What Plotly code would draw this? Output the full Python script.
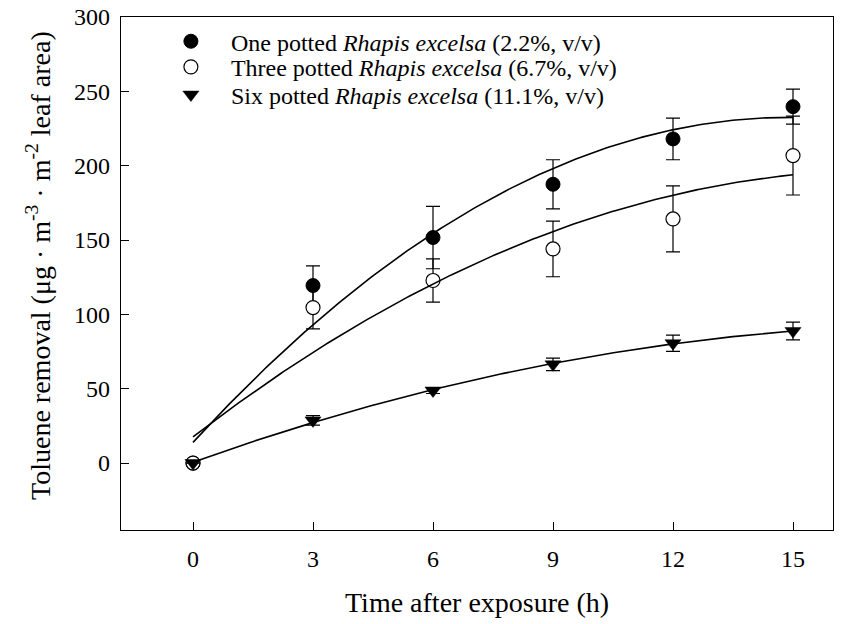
import numpy as np
import plotly.graph_objects as go

hours = [0, 3, 6, 9, 12, 15]

one_pot = [0, 119.4, 151.7, 187.5, 218.0, 239.7]
one_pot_err = [0, 13.2, 21.0, 16.5, 14.0, 11.8]

three_pot = [0, 104.6, 122.8, 144.0, 164.2, 206.8]
three_pot_err = [0, 14.3, 14.5, 18.7, 22.2, 26.5]

six_pot = [0, 28.7, 48.8, 66.4, 80.6, 88.8]
six_pot_err = [0, 3.2, 2.0, 4.2, 5.5, 6.0]

names = [
    "One potted <i>Rhapis excelsa</i> (2.2%, v/v)",
    "Three potted <i>Rhapis excelsa</i> (6.7%, v/v)",
    "Six potted <i>Rhapis excelsa</i> (11.1%, v/v)",
]

x_ticks = [0, 3, 6, 9, 12, 15]
y_ticks = [0, 50, 100, 150, 200, 250, 300]

FONT = "Liberation Serif, Times New Roman, serif"

fig = go.Figure()

series = [
    (one_pot, one_pot_err, dict(symbol="circle", color="black", size=14,
                                line=dict(color="black", width=1)), "legend"),
    (three_pot, three_pot_err, dict(symbol="circle", color="white", size=14,
                                    line=dict(color="black", width=1.2)), "legend2"),
    (six_pot, six_pot_err, dict(symbol="triangle-down", color="black", size=14,
                                line=dict(color="black", width=0.5)), "legend3"),
]

for (vals, errs, mk, lg), nm in zip(series, names):
    fig.add_trace(go.Scatter(
        x=hours, y=vals, mode="markers", name=nm, marker=mk, legend=lg,
        error_y=dict(type="data", array=errs, visible=True, color="black",
                     thickness=1.2, width=7),
    ))

# Quadratic regression lines fitted to each series
tfit = np.linspace(0, 15, 200)
for vals in (one_pot, three_pot, six_pot):
    coef = np.polyfit(hours, vals, 2)
    fig.add_trace(go.Scatter(
        x=tfit, y=np.polyval(coef, tfit), mode="lines",
        line=dict(color="black", width=1.6), showlegend=False,
        hoverinfo="skip",
    ))

axis_common = dict(
    showgrid=False, zeroline=False, showline=True, linecolor="black",
    linewidth=1.3, mirror=True, ticks="inside", ticklen=8, tickwidth=1,
    tickcolor="black", tickfont=dict(family=FONT, size=24, color="black"),
    automargin=False,
)

leg_common = dict(
    x=0.042, xanchor="left", yanchor="middle",
    bgcolor="rgba(0,0,0,0)", borderwidth=0,
    font=dict(family=FONT, size=24, color="black"),
    itemwidth=70,
)

fig.update_layout(
    width=843, height=624,
    margin=dict(l=121, r=10, t=17, b=94),
    paper_bgcolor="white", plot_bgcolor="white",
    font=dict(family=FONT, color="black"),
    xaxis=dict(range=[-1.8, 16], tickvals=x_ticks, ticklabelstandoff=7,
               **axis_common),
    yaxis=dict(range=[-45, 300], tickvals=y_ticks, ticklabelstandoff=5,
               **axis_common),
    legend=dict(y=0.952, **leg_common),
    legend2=dict(y=0.902, **leg_common),
    legend3=dict(y=0.848, **leg_common),
    showlegend=True,
    annotations=[
        dict(text="Time after exposure (h)", xref="paper", yref="paper",
             x=0.5, y=-0.142, xanchor="center", yanchor="middle",
             showarrow=False, font=dict(family=FONT, size=28, color="black")),
        dict(text="Toluene removal (μg · m<sup>-3</sup> · m<sup>-2</sup> leaf area)",
             xref="paper", yref="paper", x=-0.115, y=0.515,
             xanchor="center", yanchor="middle", textangle=-90,
             showarrow=False, font=dict(family=FONT, size=28, color="black")),
    ],
)

fig.write_html("out.html",
               config={"displayModeBar": False},
               post_script="document.body.style.margin='0px';"
                           "document.body.style.overflow='hidden';")
